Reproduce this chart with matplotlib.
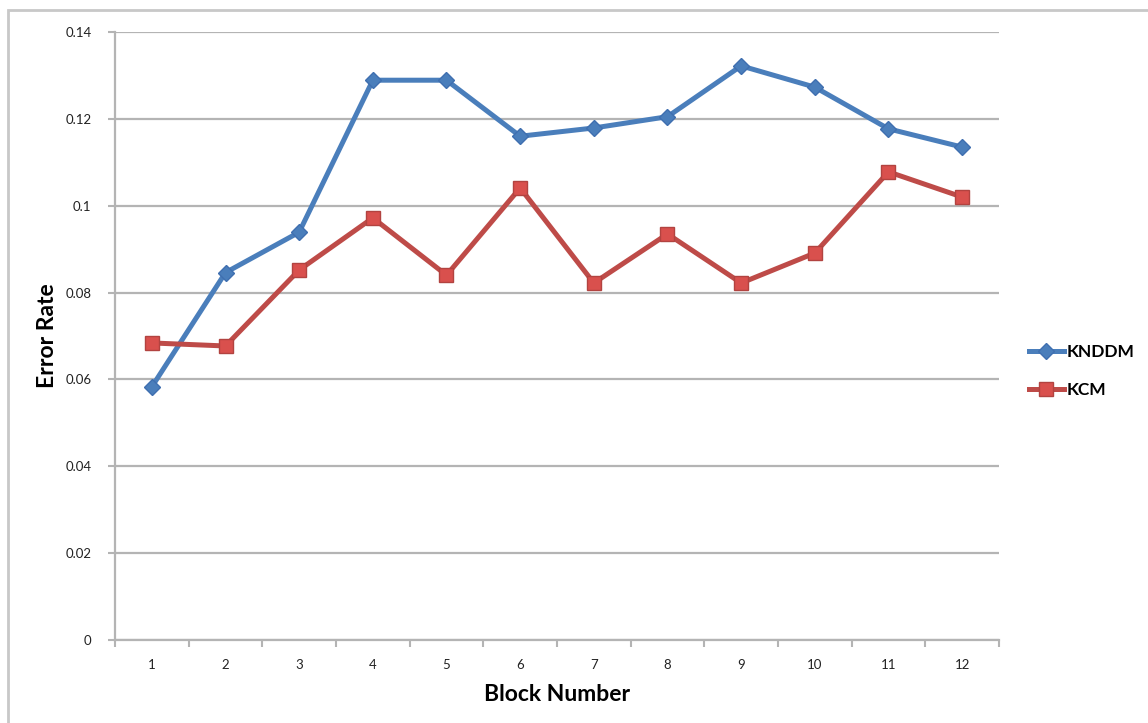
import matplotlib.pyplot as plt
from matplotlib.patches import Rectangle

# --- Data ---
BLOCKS = [1, 2, 3, 4, 5, 6, 7, 8, 9, 10, 11, 12]
KNDDM = [0.0583, 0.0846, 0.0939, 0.1289, 0.1289, 0.1160,
         0.1179, 0.1205, 0.1322, 0.1273, 0.1177, 0.1135]
KCM = [0.0684, 0.0677, 0.0852, 0.0972, 0.0840, 0.1041,
       0.0822, 0.0935, 0.0822, 0.0891, 0.1078, 0.1020]
Y_TICKS = [0, 0.02, 0.04, 0.06, 0.08, 0.1, 0.12, 0.14]
Y_TICK_LABELS = ["0", "0.02", "0.04", "0.06", "0.08", "0.1", "0.12", "0.14"]

BLUE = "#4a7ebb"
RED = "#be4b48"
GRID = "#b4b4b4"
FONT = ["Lato", "DejaVu Sans"]

plt.rcParams['font.family'] = FONT

fig = plt.figure(figsize=(11.48, 7.23), dpi=100)
ax = fig.add_axes([115 / 1148, 1 - 640 / 723, (999 - 115) / 1148, (640 - 32) / 723])

# outer frame like the spreadsheet chart border
fig.patches.append(Rectangle((8 / 1148, -0.05), 1.2, 1 - 10 / 723 + 0.05,
                             transform=fig.transFigure, fill=False,
                             edgecolor="#c8c8c8", linewidth=2.0, zorder=0))

ax.plot(BLOCKS, KNDDM, color=BLUE, linewidth=3.6, marker="D", markersize=8,
        markerfacecolor=BLUE, markeredgecolor="#3f6fb0", label="KNDDM", zorder=3)
ax.plot(BLOCKS, KCM, color=RED, linewidth=3.6, marker="s", markersize=10,
        markerfacecolor="#d9504d", markeredgecolor="#b24340", label="KCM", zorder=3)

ax.set_xlim(0.5, 12.5)
ax.set_ylim(0, 0.14)
ax.set_yticks(Y_TICKS)
ax.set_yticklabels(Y_TICK_LABELS)
ax.set_xticks(BLOCKS)
ax.set_xticklabels([str(b) for b in BLOCKS])
ax.set_xticks([b - 0.5 for b in BLOCKS] + [12.5], minor=True)

ax.tick_params(axis="x", which="major", length=0, pad=14, labelsize=9.5, labelcolor="#222222")
ax.tick_params(axis="x", which="minor", length=5, width=1.5, color=GRID, direction="out")
ax.tick_params(axis="y", length=5, width=1.5, color=GRID, pad=12, labelsize=9.5,
               labelcolor="#222222")

ax.yaxis.grid(True, color=GRID, linewidth=1.6)
ax.set_axisbelow(True)
for side in ("top", "right"):
    ax.spines[side].set_visible(False)
for side in ("left", "bottom"):
    ax.spines[side].set_color(GRID)
    ax.spines[side].set_linewidth(1.6)

ax.set_xlabel("Block Number", fontsize=16.5, fontweight="bold", labelpad=9)
ax.set_ylabel("Error Rate", fontsize=16.5, fontweight="bold", labelpad=5)

leg = ax.legend(loc="center left", bbox_to_anchor=(1022 / 1148, 1 - 371 / 723),
                bbox_transform=fig.transFigure, frameon=False, handlelength=2.0,
                handletextpad=0.15, labelspacing=1.25, borderaxespad=0,
                prop={"family": FONT, "weight": "bold", "size": 12.5})

fig.savefig("out.png", dpi=100, facecolor="white")
